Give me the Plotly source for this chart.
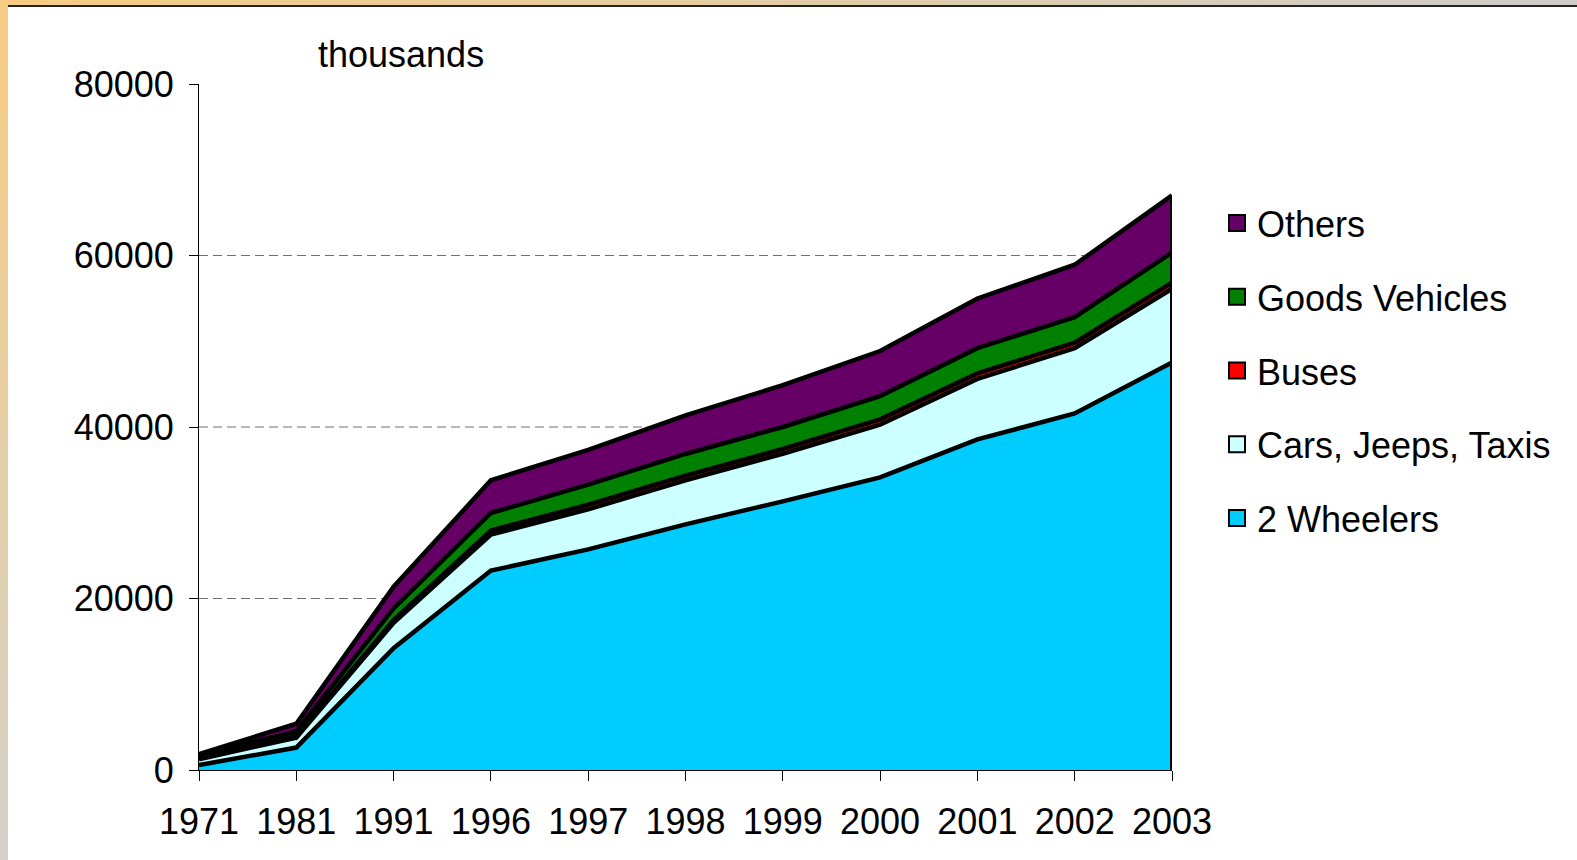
import plotly.graph_objects as go

# ---- data (thousands of vehicles) ----
years = ["1971", "1981", "1991", "1996", "1997", "1998", "1999", "2000", "2001", "2002", "2003"]
two_wheelers = [576, 2618, 14200, 23252, 25729, 28642, 31328, 34118, 38556, 41581, 47519]
cars_jeeps_taxis = [682, 1160, 2954, 4204, 4672, 5138, 5556, 6143, 7058, 7613, 8599]
buses = [94, 162, 331, 484, 538, 540, 562, 634, 634, 635, 721]
goods_vehicles = [343, 554, 1356, 2031, 2343, 2536, 2554, 2715, 2948, 2974, 3492]
others = [170, 897, 2533, 3815, 4050, 4512, 4875, 5247, 5795, 6121, 6676]

series_names = ["2 Wheelers", "Cars, Jeeps, Taxis", "Buses", "Goods Vehicles", "Others"]
series_values = [two_wheelers, cars_jeeps_taxis, buses, goods_vehicles, others]
series_colors = ["#00CCFF", "#CCFFFF", "#FF0000", "#008000", "#660066"]

y_ticks = [0, 20000, 40000, 60000, 80000]
grid_values = [20000, 40000, 60000]

# ---- geometry helpers (pixel -> paper) ----
W, H = 1577, 860
L, R, T, B = 199, 1172, 84, 770


def px_x(px):
    return (px - L) / (R - L)


def px_y(py):
    return (B - py) / (B - T)


FONT = "Liberation Sans, Arial, sans-serif"

fig = go.Figure()

for name, vals, col in zip(series_names, series_values, series_colors):
    fig.add_trace(go.Scatter(
        x=years, y=vals, name=name, stackgroup="one", mode="lines",
        line=dict(color="black", width=4.5), fillcolor=col,
        showlegend=False, hoverinfo="x+y+name",
    ))

# right edge outline of the stacked area
total_last = sum(v[-1] for v in series_values)
fig.add_trace(go.Scatter(
    x=[years[-1], years[-1]], y=[0, total_last], mode="lines",
    line=dict(color="black", width=4), showlegend=False, hoverinfo="skip",
))

# legend entries (square swatches), top to bottom
for name, col in reversed(list(zip(series_names, series_colors))):
    fig.add_trace(go.Scatter(
        x=[None], y=[None], name=name, mode="markers", legendgroup=name,
        marker=dict(symbol="square", size=16, color=col, line=dict(color="black", width=2)),
        showlegend=True,
    ))

shapes = []
# dashed gridlines
for g in grid_values:
    shapes.append(dict(type="line", xref="paper", yref="y", x0=0, x1=1, y0=g, y1=g,
                       line=dict(color="#707070", width=1, dash="9px,5px"), layer="below"))


# gradient border (top and left strips)
def lerp(c1, c2, t):
    return "rgb(%d,%d,%d)" % tuple(round(a + (b - a) * t) for a, b in zip(c1, c2))


orange = (246, 204, 130)
grey_r = (206, 204, 201)
grey_b = (213, 208, 200)
n = 40
for i in range(n):
    x0 = W * i / n
    x1 = W * (i + 1) / n + 1
    shapes.append(dict(type="rect", xref="paper", yref="paper",
                       x0=px_x(x0), x1=px_x(x1), y0=px_y(0), y1=px_y(5),
                       fillcolor=lerp(orange, grey_r, i / (n - 1)), line=dict(width=0), layer="above"))
for i in range(n):
    y0 = H * i / n
    y1 = H * (i + 1) / n + 1
    shapes.append(dict(type="rect", xref="paper", yref="paper",
                       x0=px_x(0), x1=px_x(8), y0=px_y(y0), y1=px_y(y1),
                       fillcolor=lerp(orange, grey_b, i / (n - 1)), line=dict(width=0), layer="above"))
shapes.append(dict(type="rect", xref="paper", yref="paper",
                   x0=px_x(8), x1=px_x(W + 2), y0=px_y(5), y1=px_y(7),
                   fillcolor="#222222", line=dict(width=0), layer="above"))

fig.update_layout(
    width=W, height=H,
    margin=dict(l=L, r=W - R, t=T, b=H - B, pad=0, autoexpand=False),
    paper_bgcolor="white", plot_bgcolor="white",
    font=dict(family=FONT, size=36, color="black"),
    showlegend=True,
    legend=dict(x=px_x(1217), xanchor="left", y=px_y(193), yanchor="top",
                traceorder="grouped", tracegroupgap=24, bgcolor="rgba(0,0,0,0)",
                font=dict(family=FONT, size=36, color="black"), itemsizing="trace"),
    shapes=shapes,
    annotations=[dict(text="thousands", xref="paper", yref="paper",
                      x=px_x(401), y=px_y(55), xanchor="center", yanchor="middle",
                      showarrow=False, font=dict(family=FONT, size=36, color="black"))],
    xaxis=dict(type="category", categoryorder="array", categoryarray=years,
               range=[0, len(years) - 1], showgrid=False, zeroline=False,
               showline=True, linecolor="black", linewidth=1,
               ticks="outside", ticklen=10, tickcolor="black", tickwidth=1,
               ticklabelstandoff=10, tickfont=dict(family=FONT, size=36, color="black")),
    yaxis=dict(range=[0, 80000], tickvals=y_ticks, tickformat="d",
               showgrid=False, zeroline=False,
               showline=True, linecolor="black", linewidth=1,
               ticks="outside", ticklen=9, tickcolor="black", tickwidth=1,
               ticklabelstandoff=8, tickfont=dict(family=FONT, size=36, color="black")),
)

fig.write_html("out.html", config={"displayModeBar": False},
               post_script="document.body.style.margin='0';document.body.style.overflow='hidden';")
